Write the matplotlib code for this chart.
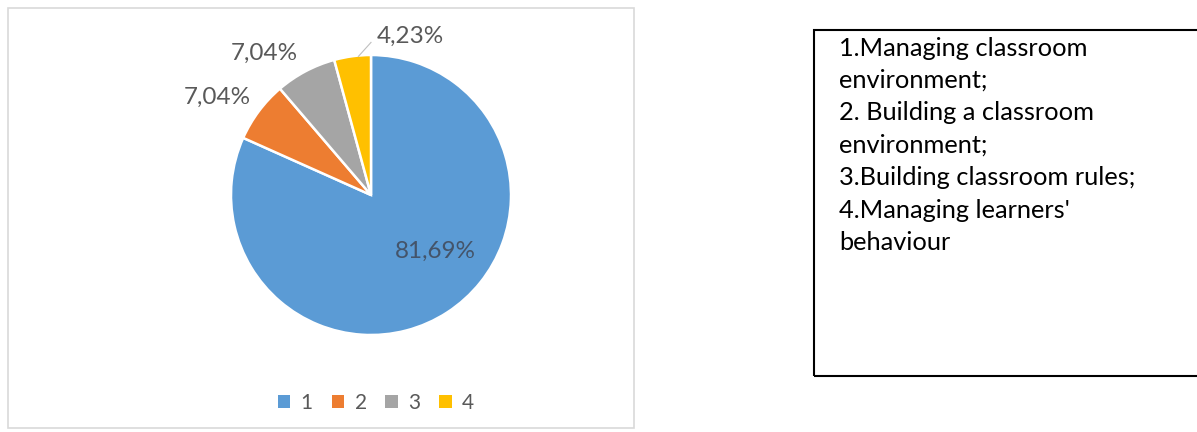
import matplotlib
matplotlib.use("Agg")
import matplotlib.pyplot as plt
from matplotlib.patches import Rectangle, Patch
from matplotlib.lines import Line2D

# Survey shares (%) for each category
categories = ["1", "2", "3", "4"]
shares = [81.69, 7.04, 7.04, 4.23]
colors = ["#5B9BD5", "#ED7D31", "#A5A5A5", "#FFC000"]

key_lines = [
    "1.Managing classroom",
    "environment;",
    "2. Building a classroom",
    "environment;",
    "3.Building classroom rules;",
    "4.Managing learners'",
    "behaviour",
]

W, H = 1197, 432
plt.rcParams["font.family"] = ["Lato", "DejaVu Sans"]
fig = plt.figure(figsize=(W / 100, H / 100), dpi=100)
fig.patch.set_facecolor("white")


def fx(px):
    return px / W


def fy(py):
    return 1 - py / H


# light chart-area frame
fig.patches.append(Rectangle((fx(8), fy(428)), fx(626), (420) / H,
                             transform=fig.transFigure, fill=False,
                             edgecolor="#D9D9D9", linewidth=1.2))

# pie axes (centre 371,195; radius 140 px)
cx, cy, r = 371, 195, 140
ax = fig.add_axes([fx(cx - r), fy(cy + r), 2 * r / W, 2 * r / H])
wedges, _ = ax.pie(shares, colors=colors, startangle=90, counterclock=False,
                   radius=1, wedgeprops=dict(edgecolor="white", linewidth=1.8))
ax.set_xlim(-1, 1)
ax.set_ylim(-1, 1)
ax.axis("off")

labels = [f"{v:.2f}%".replace(".", ",") for v in shares]
# label anchor positions in pie units
label_pos = [(0.46, -0.40), (-1.10, 0.70), (-0.76, 1.01), (0.28, 1.13)]
label_col = ["#44546A", "#595959", "#595959", "#595959"]
for lab, (lx, ly), c in zip(labels, label_pos, label_col):
    ax.text(lx, ly, lab, ha="center", va="center", fontsize=17.5,
            color=c, clip_on=False)
# leader line for the smallest slice
ax.add_line(Line2D([-0.09, 0.0], [0.99, 1.09], color="#BFBFBF", linewidth=0.8,
                   clip_on=False))

# legend
handles = [Patch(facecolor=c, edgecolor="none") for c in colors]
fig.legend(handles, categories, loc="center", bbox_to_anchor=(fx(376), fy(403)),
           ncol=4, frameon=False, fontsize=15, labelcolor="#595959",
           handlelength=0.6, handleheight=0.6, handletextpad=0.5,
           columnspacing=0.9)

# key box on the right
fig.patches.append(Rectangle((fx(814), fy(376)), fx(400), 346 / H,
                             transform=fig.transFigure, fill=False,
                             edgecolor="black", linewidth=1.5))
for i, line in enumerate(key_lines):
    fig.text(fx(839), fy(48 + 32.5 * i), line, ha="left", va="center",
             fontsize=18.3, color="black")

fig.savefig("out.png", dpi=100, facecolor="white")
